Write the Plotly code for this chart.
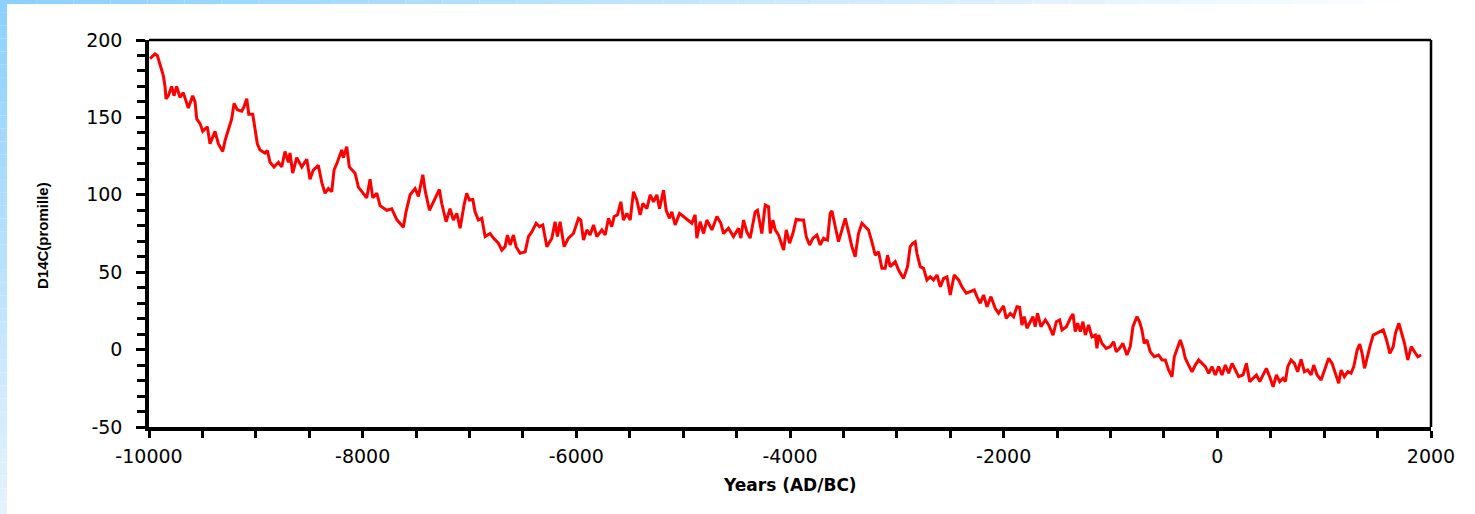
import plotly.graph_objects as go

# ---- data ----
years = [
-9990,-9944,-9922,-9897,-9866,-9850,-9841,-9819,-9788,-9766,-9741,-9710,-9679,-9632,-9591,-9569,-9553,-9522,-9497,-9454,
-9429,-9382,-9351,-9310,-9288,-9257,-9226,-9204,-9173,-9132,-9110,-9085,-9066,-9029,-8986,-8961,-8914,-8892,-8867,-8830,
-8789,-8758,-8727,-8696,-8680,-8655,-8617,-8570,-8523,-8493,-8462,-8415,-8383,-8352,-8321,-8289,-8268,-8237,-8196,-8181,
-8149,-8125,-8071,-8040,-7993,-7962,-7931,-7905,-7868,-7837,-7775,-7728,-7681,-7619,-7594,-7556,-7509,-7478,-7437,-7416,
-7375,-7338,-7282,-7260,-7219,
-7182,-7151,-7119,-7088,-7051,-7026,-7001,-6969,-6948,-6917,-6885,-6854,-6807,-6776,-6729,-6698,-6667,-6645,-6620,-6589,
-6564,-6526,-6479,-6448,-6417,-6376,-6345,-6314,-6276,-6229,-6199,-6177,-6152,-6114,-6074,-6027,-5980,-5958,-5933,-5902,
-5871,-5839,-5808,-5761,-5730,-5699,-5668,-5646,-5615,-5583,-5559,-5527,-5496,-5465,-5434,-5403,-5377,-5340,-5309,-5277,
-5246,-5221,-5184,-5159,-5128,-5106,-5075,-5034,-4997,-4950,-4919,-4888,-4872,-4841,-4809,-4778,-4731,-4684,-4647,-4622,
-4576,-4529,-4482,-4460,-4435,-4404,
-4373,-4326,-4304,-4264,-4232,-4201,-4185,-4160,-4138,-4107,-4085,-4060,-4035,-4004,-3973,-3942,-3904,-3873,-3848,-3817,
-3785,-3748,-3717,-3686,-3649,-3624,-3608,-3577,-3546,-3514,-3483,-3452,-3421,-3390,-3359,-3327,-3296,-3265,-3234,-3202,
-3171,-3140,-3109,-3087,-3062,-3015,-2984,-2937,-2900,-2875,-2850,-2828,-2812,-2781,-2750,-2718,-2687,-2656,-2624,-2593,
-2562,-2531,-2500,-2463,-2422,-2391,-2350,-2313,-2275,-2250,-2219,-2188,-2156,-2119,-2079,-2048,
-2001,-1976,-1938,-1907,-1876,-1851,-1829,-1808,-1782,-1751,-1726,-1705,-1683,-1651,-1610,-1579,-1538,-1507,-1476,-1454,
-1413,-1376,-1351,-1330,-1308,-1283,-1258,-1236,-1205,-1174,-1142,-1127,-1111,-1080,-1040,-1002,-971,-946,-915,-884,
-846,-815,-790,-752,-728,-706,-684,-659,-628,-590,-550,-518,-487,-456,-424,-403,-372,-347,-321,-300,
-269,-237,-206,-175,-143,-112,-81,-50,-19,12,44,75,106,138,169,200,241,272,303,335,
366,397,434,459,490,522,553,584,615,637,659,690,721,752,784,815,846,878,902,934,
971,1002,1042,1074,1105,1136,1159,1189,1221,1252,1277,1309,1333,1355,1378,1403,1428,1459,1490,1521,
1553,1584,1615,1646,1667,1699,1721,1752,1783,1815,1846,1877,1908,
]
d14c = [
188,191,190,184,177,170,162,164,170,164,170,163,166,156,164,160,149,146,141,144,
133,141,133,128,135,142,149,159,155,154,157,162,152,152,133,129,127,128.5,121,118,
121,118,128,121,127,114,124,118,123,110,116,119,108,101,104,102,116,121,129,124,
131,118,114,105,101,98,110,98,101,93,90,91,84,79,89,100,104,99,113,103,
90,95.5,103.5,94.5,82.6,
91,83.7,88,78.4,93.4,101,96.6,97,89,83.7,84.8,73,75,72,68.7,64.3,66.5,74,67.6,74,
66.5,62.2,63.2,73,76,81.6,79.4,80.5,66.5,72,82.6,73,82.6,66.5,72,75,84.8,83.7,70.8,77.3,
74,80.5,73,77.3,74,84.8,79.4,86,87,95.5,83.7,88,83.7,102,96.6,87,94.5,91,100,95.5,
100,91,103,90,84.8,89,80.5,88,86,83.7,81.6,87,72,82.6,75,83.7,77.3,86,81.6,75,
78.4,73,78.4,72,83.7,76,
72,89,90,75,93.4,92.3,75,83.7,77.3,74,69.7,64.3,77.3,68.7,75,84.2,83.7,83.7,73,67.6,
72,74,67.6,72,70.8,88,89.7,79.4,69.7,77.3,84.8,76,66.5,60,75,81.6,79.4,77.3,69.7,61,
63.2,52.5,52.5,61,53.6,56.8,51.4,46,53.6,66.5,68.7,69.7,62.2,53.6,52.5,45,47,45,48.2,40.6,
46,47,35.3,48.2,45,40.6,36.4,37.4,38.5,34.2,29.9,35.3,27.7,34.2,26.7,23.4,
28.2,20.2,23.4,21.3,27.7,27.3,15.9,21.3,13.8,18,21.3,14.8,23.4,14.8,19.1,15.9,9.4,18,19.1,12.7,
14.8,20.2,23,11.6,17,11.6,18,9.4,15.9,8.3,9.4,0.8,9.4,4,0.8,1.9,5.1,-1.4,0.8,4,
-3.5,1.9,14.8,21.3,18,12.7,4,6.2,-1.4,-4.6,-3.5,-6.7,-6.7,-13.2,-17.5,-4.6,0.8,6.2,0.8,-5.6,
-10,-14.3,-10,-6.7,-8.9,-11,-15.3,-11,-16.4,-11,-16.4,-10,-15.3,-8.9,-13.2,-17.5,-16.4,-8.9,-20.7,-18.5,
-16.4,-20.7,-15.3,-12.1,-17.5,-24,-16.4,-20.7,-18.5,-20.7,-11,-6.7,-8.9,-14.3,-6.3,-14.3,-13.2,-16.4,-10,-16.4,
-19.6,-13.2,-5.6,-8.9,-15.3,-21.8,-13.2,-17.5,-14.3,-15.3,-11,-0.3,3.6,-2.4,-12.1,-4.6,1.9,9.4,10.5,11.6,
12.7,6.2,-2.4,1.9,10.5,17,11.6,4,-6.7,1.9,-1.4,-4.6,-3.5,
]

x_ticks = [-10000, -8000, -6000, -4000, -2000, 0, 2000]
y_ticks = [-50, 0, 50, 100, 150, 200]
x_title = "Years (AD/BC)"
y_title = "D14C(promille)"

# ---- layout geometry (pixels) ----
W, H = 1475, 514
L, R, T, B = 149, 1431, 40, 427


def px(xp):
    return (xp - L) / (R - L)


def py(yp):
    return (B - yp) / (B - T)


fig = go.Figure()
fig.add_trace(go.Scatter(
    x=years, y=d14c, mode="lines",
    line=dict(color="#ff0000", width=3),
    showlegend=False, hoverinfo="skip",
))

shapes = []
# decorative gradient frame (left and top)
n = 40


def mix(c0, c1, t):
    return "rgb(%d,%d,%d)" % tuple(round(a + (b - a) * t) for a, b in zip(c0, c1))


c_dark = (140, 208, 255)
for i in range(n):
    y0 = H * i / n
    y1 = H * (i + 1) / n
    shapes.append(dict(type="rect", xref="paper", yref="paper",
                       x0=px(0), x1=px(7), y0=py(y1), y1=py(y0),
                       fillcolor=mix(c_dark, (228, 242, 255), i / (n - 1)),
                       line=dict(width=0), layer="below"))
for i in range(n):
    x0 = W * i / n
    x1 = W * (i + 1) / n
    shapes.append(dict(type="rect", xref="paper", yref="paper",
                       x0=px(x0), x1=px(x1), y0=py(4), y1=py(0),
                       fillcolor=mix(c_dark, (255, 255, 255), min(1, i / (n * 0.95))),
                       line=dict(width=0), layer="below"))
# thinner top / right frame lines
shapes.append(dict(type="line", xref="paper", yref="paper", x0=0, x1=1, y0=1, y1=1,
                   line=dict(color="black", width=2.5)))
shapes.append(dict(type="line", xref="paper", yref="paper", x0=1, x1=1, y0=0, y1=1,
                   line=dict(color="black", width=2.5)))

fig.update_layout(
    template="none",
    width=W, height=H,
    margin=dict(l=L, r=W - R, t=T, b=H - B, pad=0),
    paper_bgcolor="white", plot_bgcolor="white",
    shapes=shapes,
    xaxis=dict(
        range=[-10000, 2000], tickvals=x_ticks, ticktext=[str(v) for v in x_ticks],
        showgrid=False, zeroline=False, automargin=False,
        showline=True, linecolor="black", linewidth=3.5,
        ticks="outside", ticklen=7, tickwidth=2.5, tickcolor="black",
        minor=dict(dtick=500, tick0=0, ticks="outside", ticklen=7, tickwidth=2.5, tickcolor="black", showgrid=False),
        tickfont=dict(family="DejaVu Sans", size=19, color="black"),
        ticklabelstandoff=2,
    ),
    yaxis=dict(
        range=[-50, 200], tickvals=y_ticks, ticktext=[str(v) for v in y_ticks],
        showgrid=False, zeroline=False, automargin=False,
        showline=True, linecolor="black", linewidth=3.5,
        ticks="outside", ticklen=9, tickwidth=2.5, tickcolor="black",
        minor=dict(dtick=10, tick0=0, ticks="outside", ticklen=8, tickwidth=2.5, tickcolor="black", showgrid=False),
        tickfont=dict(family="DejaVu Sans", size=19, color="black"),
        ticklabelstandoff=10,
    ),
    annotations=[
        dict(text=x_title, xref="paper", yref="paper", x=px(790), y=py(485),
             xanchor="center", yanchor="middle", showarrow=False,
             font=dict(family="DejaVu Sans", size=17, color="black", weight="bold")),
        dict(text=y_title, xref="paper", yref="paper", x=px(42), y=py(235),
             xanchor="center", yanchor="middle", showarrow=False, textangle=-90,
             font=dict(family="Liberation Sans", size=15, color="black", weight="bold")),
    ],
)

fig.write_html("out.html")
